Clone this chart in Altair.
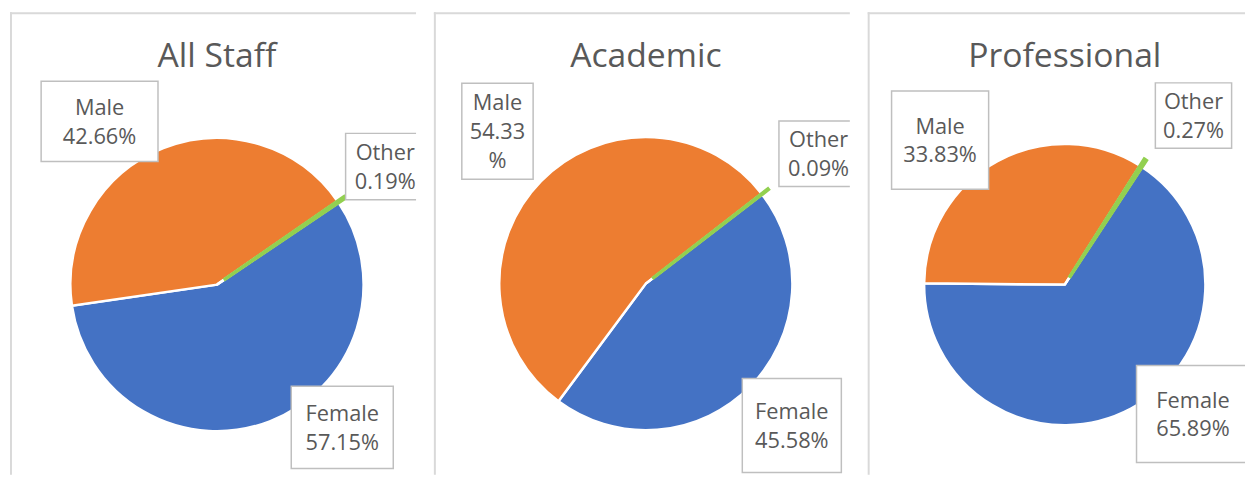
import math
import altair as alt
import pandas as pd

# ---------------- data ----------------
panel_titles = ["All Staff", "Academic", "Professional"]
categories = ["Female", "Male", "Other"]
all_staff = [57.15, 42.66, 0.19]
academic = [45.58, 54.33, 0.09]
professional = [65.89, 33.83, 0.27]
series = [all_staff, academic, professional]
colors = ["#4472C4", "#ED7D31", "#92D050"]

# ---------------- layout / style ----------------
FONT = "Open Sans"
TEXT_COLOR = "#595959"
BORDER = "#d9d9d9"
H = 467
LINE_H = 29
panel_w = [410, 420, 381]
centers = [(209, 275), (214, 274), (199, 275)]
radii = [148, 148, 142]
start_deg = [56.0, 52.5, 33.3]          # rotation of first slice
LABEL_R = 190
# per-label nudges (dx, dy) and box sizes (w, h), order Female, Male, Other
nudges = [
    [(58, -33), (-49, 12), (13, -12)],
    [(12, 10), (-14, -21), (24, -15)],
    [(40, -37), (-35, 21), (27, -11)],
]
box_sizes = [
    [(103, 83), (118, 81), (80, 67)],
    [(100, 95), (72, 97), (80, 66)],
    [(114, 98), (98, 99), (77, 66)],
]
# narrow box wraps the percent sign onto its own line
wrap_percent = {(1, "Male")}


def make_panel(i):
    vals = series[i]
    cx, cy = centers[i]
    R = radii[i]
    W = panel_w[i]
    t0 = math.radians(start_deg[i])
    total = sum(vals)

    df = pd.DataFrame({"category": categories, "value": vals, "ord": list(range(len(vals)))})

    # label table derived from the data (mid angle of each slice)
    rows = []
    cum = 0.0
    for k, (cat, v) in enumerate(zip(categories, vals)):
        mid = t0 + 2 * math.pi * (cum + v / 2) / total
        cum += v
        dx, dy = nudges[i][k]
        bw, bh = box_sizes[i][k]
        lx = cx + LABEL_R * math.sin(mid) + dx
        ly = cy - LABEL_R * math.cos(mid) + dy
        pct = f"{v:.2f}"
        txt = f"{cat}\n{pct}\n%" if (i, cat) in wrap_percent else f"{cat}\n{pct}%"
        n = txt.count("\n") + 1
        rows.append({"category": cat, "label": txt, "lx": lx,
                     "ty": ly - (n - 1) * LINE_H / 2 + 1,
                     "bx1": lx - bw / 2, "bx2": lx + bw / 2,
                     "by1": ly - bh / 2, "by2": ly + bh / 2})
    lab = pd.DataFrame(rows)

    theta = alt.Theta("value:Q", stack=True,
                      scale=alt.Scale(range=[t0, t0 + 2 * math.pi]))
    color = alt.Color("category:N", legend=None,
                      scale=alt.Scale(domain=categories, range=colors))

    pie = alt.Chart(df).mark_arc(radius=R, stroke="white", strokeWidth=2.5).encode(
        theta=theta, color=color, order=alt.Order("ord:Q"),
        x=alt.value(cx), y=alt.value(cy),
    )
    other = alt.Chart(df).mark_arc(radius=R + 8, radius2=10, stroke="#92D050",
                                   strokeWidth=3.5).encode(
        theta=theta, color=color, order=alt.Order("ord:Q"),
        x=alt.value(cx), y=alt.value(cy),
        opacity=alt.condition(alt.datum.category == "Other", alt.value(1), alt.value(0)),
    )
    boxes = alt.Chart(lab).mark_rect(fill="white", stroke="#bfbfbf", strokeWidth=1.5,
                                     clip=True).encode(
        x=alt.X("bx1:Q", scale=None, axis=None), x2="bx2:Q",
        y=alt.Y("by1:Q", scale=None, axis=None), y2="by2:Q",
    )
    texts = alt.Chart(lab).mark_text(font=FONT, fontSize=22, color=TEXT_COLOR,
                                     lineBreak="\n", lineHeight=LINE_H, align="center",
                                     baseline="middle", clip=True).encode(
        x=alt.X("lx:Q", scale=None, axis=None),
        y=alt.Y("ty:Q", scale=None, axis=None),
        text="label:N",
    )
    title = alt.Chart(pd.DataFrame({"t": [panel_titles[i]]})).mark_text(
        font=FONT, fontSize=34, color=TEXT_COLOR, align="center", baseline="alphabetic"
    ).encode(x=alt.value(cx), y=alt.value(55), text="t:N")
    one = pd.DataFrame({"a": [0]})
    left = alt.Chart(one).mark_rule(color=BORDER, strokeWidth=2).encode(
        x=alt.value(1), y=alt.value(0), y2=alt.value(H))
    top = alt.Chart(one).mark_rule(color=BORDER, strokeWidth=2).encode(
        x=alt.value(0), x2=alt.value(W), y=alt.value(1))

    return alt.layer(left, top, pie, other, boxes, texts, title).properties(
        width=W, height=H)


chart = alt.hconcat(*[make_panel(i) for i in range(3)], spacing=14).resolve_scale(
    theta="independent", x="independent", y="independent"
).properties(padding=0).configure_view(stroke="transparent")

chart.save("out.html", embed_options={"renderer": "svg", "actions": False})
